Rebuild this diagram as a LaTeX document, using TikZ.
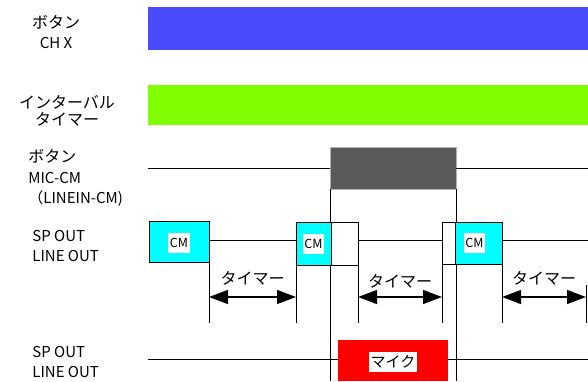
\documentclass[tikz,border=0pt]{standalone}
\usepackage{fontspec}
\setmainfont{Noto Sans CJK JP}
\usetikzlibrary{
	arrows.meta,
	calc,
	positioning
}
\definecolor{BtnBlue}{RGB}{74,74,255}
\definecolor{TimerGreen}{RGB}{128,255,0}
\definecolor{MicGray}{RGB}{90,90,90}
\definecolor{CmCyan}{RGB}{0,255,255}
\definecolor{MicRed}{RGB}{255,0,0}

\begin{document}
\begin{tikzpicture}[x=1pt, y=-1pt, line width=0.8pt,
		sigbox/.style={anchor=north west, inner sep=0pt, outer sep=0pt},
		cmbox/.style={sigbox, draw=black, line width=1pt, fill=CmCyan},
		gapbox/.style={sigbox, draw=black, line width=1pt, fill=white},
		tag/.style={fill=white, inner sep=1.5pt, minimum height=20pt, font=\fontsize{12.5}{12.5}\selectfont},
		rowlabel/.style={anchor=west, align=left, inner sep=0pt, font=\fontsize{15}{20.5}\selectfont},
		timer/.style={line width=1.3pt, {Triangle[length=19pt,width=14pt]}-{Triangle[length=19pt,width=14pt]}},
		timerlabel/.style={font=\fontsize{16}{16}\selectfont, inner sep=0pt}]
		\useasboundingbox (0,0) rectangle (588,381);
		
		% 左側のラベル
		\node[align=center, inner sep=0pt, font=\fontsize{15}{20.5}\selectfont] (lblBtn) at (56,32) {\fontsize{16}{20.5}\selectfont ボタン\\CH X};
		\node[align=center, inner sep=0pt, font=\fontsize{16}{16.5}\selectfont] (lblIv) at (67,111) {インターバル\\タイマー};
		\node[rowlabel] (lblMic) at (28,178) {\fontsize{16}{20.5}\selectfont ボタン\\MIC-CM\\（LINEIN-CM)};
		\node[rowlabel] (lblSpA) at (32,246) {SP OUT\\LINE OUT};
		\node[rowlabel] (lblSpB) at (32,362) {SP OUT\\LINE OUT};
		
		% 上の二本の帯
		\node[sigbox, fill=BtnBlue, minimum width=440pt, minimum height=43pt] (chx) at (148,7) {};
		\node[sigbox, fill=TimerGreen, minimum width=440pt, minimum height=40pt] (ivt) at (148,85) {};
		
		% MIC-CM ボタン
		\node[sigbox, fill=MicGray, draw=gray!60, line width=0.6pt, minimum width=126pt, minimum height=42pt] (mic) at (330,147) {};
		\draw (148,168) -- (mic.west);
		\draw (mic.east) -- (588,168);
		\coordinate (bot) at (0,381);
		\draw (mic.south west) -- (mic.south west |- bot);
		\draw (mic.south east) -- (mic.south east |- bot);
		
		% SP OUT / LINE OUT (CM)
		\coordinate (r4) at (0,240);
		\node[cmbox, minimum width=60pt, minimum height=41pt] (cmA) at (149,221) {};
		\node[cmbox, minimum width=35pt, minimum height=43pt] (cmB) at (296,222) {};
		\node[gapbox, minimum width=27pt, minimum height=43pt] (gapA) at (331,222) {};
		\node[gapbox, minimum width=13pt, minimum height=42pt] (gapB) at (442,222) {};
		\node[cmbox, minimum width=47pt, minimum height=42pt] (cmC) at (455,222) {};
		\node[tag] at ($(cmA.center)+(0,1)$) {CM};
		\node[tag] at ($(cmB.center)+(0,0)$) {CM};
		\node[tag] at ($(cmC.center)+(-4,0)$) {CM};
		\draw (cmA.east |- r4) -- (cmB.west |- r4);
		\draw (gapA.east |- r4) -- (gapB.west |- r4);
		\draw (cmC.east |- r4) -- (588,240);
		\draw (gapA.north west) -- (gapA.south west);
		
		% タイマー
		\coordinate (tb) at (0,323);
		\coordinate (ta) at (0,297);
		\coordinate (tEnd) at (586,285);
		\draw (cmA.south east) -- (cmA.south east |- tb);
		\draw (cmB.south west) -- (cmB.south west |- tb);
		\draw (gapA.south east) -- (gapA.south east |- tb);
		\draw (gapB.south west) -- (gapB.south west |- tb);
		\draw (cmC.south east) -- (cmC.south east |- tb);
		\draw (tEnd) -- (tEnd |- tb);
		\draw[timer] (cmA.south east |- ta) -- (cmB.south west |- ta) node[midway, timerlabel, yshift=19pt] (tmA) {タイマー};
		\draw[timer] (gapA.south east |- ta) -- (gapB.south west |- ta) node[midway, timerlabel, yshift=16pt] (tmB) {タイマー};
		\draw[timer] (cmC.south east |- ta) -- (tEnd |- ta) node[midway, timerlabel, yshift=19pt] (tmC) {タイマー};
		
		% SP OUT / LINE OUT (マイク)
		\node[sigbox, fill=MicRed, minimum width=110pt, minimum height=41pt] (mike) at (338,340) {};
		\node[tag, font=\fontsize{15}{15}\selectfont] at ($(mike.center)+(0,1)$) {マイク};
		\draw (148,359) -- (mike.west |- 0,359);
		\draw (mike.east |- 0,359) -- (588,359);
	\end{tikzpicture}
\end{document}
